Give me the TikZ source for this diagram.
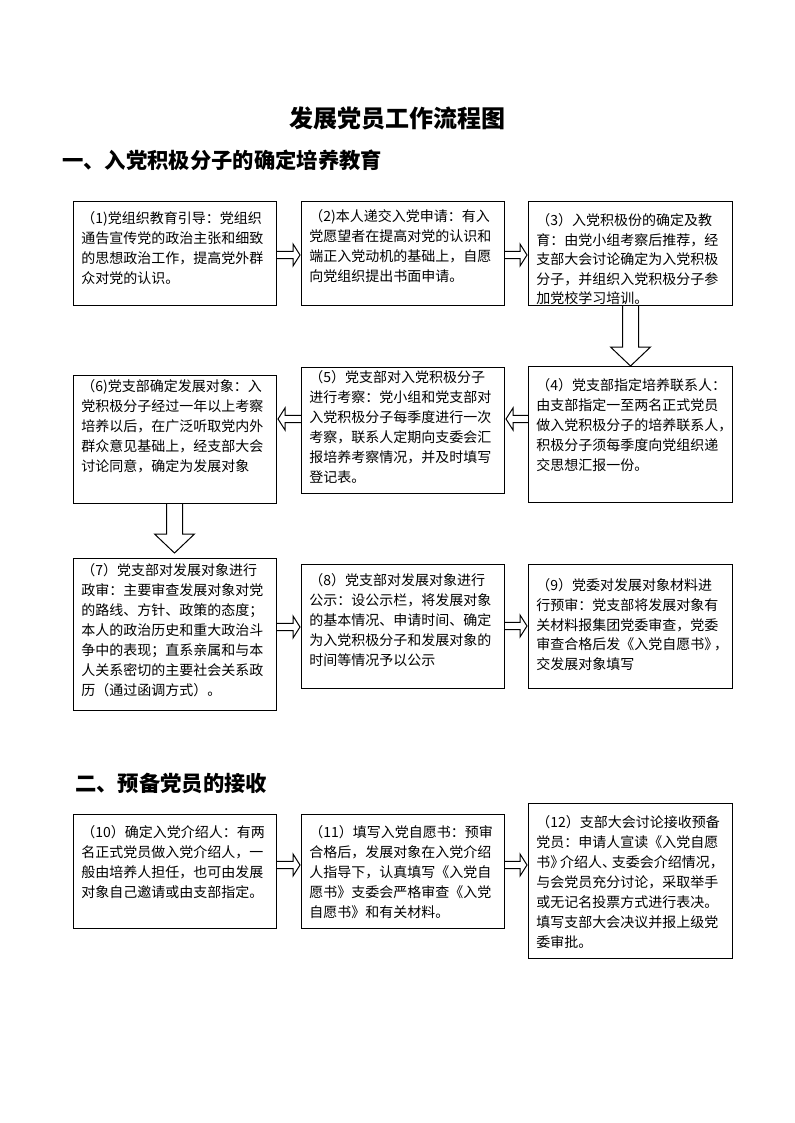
\documentclass[tikz,border=0pt]{standalone}
\usepackage{fontspec}
\setmainfont{Noto Sans CJK SC}
\usetikzlibrary{calc}
\tikzset{
  box/.style={draw, line width=0.75pt, inner sep=0pt, anchor=north west},
  boxtext/.style={anchor=north west, inner sep=0pt, align=left},
  blockarrow/.style={draw, line width=0.75pt, line join=miter},
  heading/.style={font=\fontsize{16pt}{18pt}\selectfont\bfseries, anchor=west, inner sep=0pt},
  titletext/.style={font=\fontsize{18pt}{20pt}\selectfont\bfseries, inner sep=0pt}
}
\newcommand\tightp{\kern-0.3em}
% name, x1, y1, x2, y2, first-line centre y, baselineskip, text
\newcommand\mkbox[8]{%
  \node[box, minimum width={(#4-#2)*0.75pt}, minimum height={(#5-#3)*0.75pt}] (#1) at (#2,#3) {};
  \node[boxtext, font=\fontsize{10.5pt}{#7}\selectfont] (#1t) at (#2+8,#6-8) {\rule{0pt}{10pt}#8};
}
% right-pointing hollow arrow: left node, right node, y
\newcommand\rarr[3]{%
  \coordinate (as) at (#1.east |- 0,#3);
  \coordinate (at) at ($(#2.west |- 0,#3)+(-1,0)$);
  \draw[blockarrow] ($(as)+(0,-3.7)$) -- ($(at)+(-7,-3.7)$) -- ($(at)+(-7,-11)$) -- (at)
     -- ($(at)+(-7,11)$) -- ($(at)+(-7,3.7)$) -- ($(as)+(0,3.7)$);
}
% left-pointing hollow arrow: right node, left node, y
\newcommand\larr[3]{%
  \coordinate (as) at (#1.west |- 0,#3);
  \coordinate (at) at ($(#2.east |- 0,#3)+(1,0)$);
  \draw[blockarrow] ($(as)+(0,-3.7)$) -- ($(at)+(7,-3.7)$) -- ($(at)+(7,-11)$) -- (at)
     -- ($(at)+(7,11)$) -- ($(at)+(7,3.7)$) -- ($(as)+(0,3.7)$);
}
% downward hollow arrow: top node, bottom node, x, gap above bottom node
\newcommand\darr[4]{%
  \coordinate (ds) at (#1.south -| #3,0);
  \coordinate (dt) at ($(#2.north -| #3,0)+(0,-#4)$);
  \draw[blockarrow] ($(ds)+(-8,0)$) -- ($(dt)+(-8,-19)$) -- ($(dt)+(-20,-19)$) -- (dt)
     -- ($(dt)+(20,-19)$) -- ($(dt)+(8,-19)$) -- ($(ds)+(8,0)$);
}
\begin{document}
\begin{tikzpicture}[x=0.75pt,y=-0.75pt]
\fill[white] (0,0) rectangle (794,1123);
\useasboundingbox (0,0) rectangle (794,1123);

\node[titletext] (title) at (397,118) {发展党员工作流程图};
\node[heading] (h1) at (62,160) {一、入党积极分子的确定培养教育};
\node[heading] (h2) at (75,783) {二、预备党员的接收};

\mkbox{b1}{73}{201}{276}{305}{218}{15pt}{（1)党组织教育引导：党组织\\通告宣传党的政治主张和细致\\的思想政治工作，提高党外群\\众对党的认识。}
\mkbox{b2}{301}{201}{504}{305}{216}{15pt}{（2)本人递交入党申请：有入\\党愿望者在提高对党的认识和\\端正入党动机的基础上，自愿\\向党组织提出书面申请。}
\mkbox{b3}{528}{201}{732}{305}{220}{14.6pt}{（3）入党积极份的确定及教\\育：由党小组考察后推荐，经\\支部大会讨论确定为入党积极\\分子，并组织入党积极分子参\\加党校学习培训。}

\mkbox{b4}{528}{366}{732}{502}{385}{15pt}{（4）党支部指定培养联系人：\\由支部指定一至两名正式党员\\做入党积极分子的培养联系人，\\积极分子须每季度向党组织递\\交思想汇报一份。}
\mkbox{b5}{301}{367}{504}{493}{377}{15pt}{（5）党支部对入党积极分子\\进行考察：党小组和党支部对\\入党积极分子每季度进行一次\\考察，联系人定期向支委会汇\\报培养考察情况，并及时填写\\登记表。}
\mkbox{b6}{73}{375}{276}{503}{386}{15pt}{（6)党支部确定发展对象：入\\党积极分子经过一年以上考察\\培养以后，在广泛听取党内外\\群众意见基础上，经支部大会\\讨论同意，确定为发展对象}

\mkbox{b7}{73}{558}{276}{710}{570}{15pt}{（7）党支部对发展对象进行\\政审：主要审查发展对象对党\\的路线、方针、政策的态度；\\本人的政治历史和重大政治斗\\争中的表现；直系亲属和与本\\人关系密切的主要社会关系政\\历（通过函调方式）。}
\mkbox{b8}{301}{564}{504}{688}{580}{15pt}{（8）党支部对发展对象进行\\公示：设公示栏，将发展对象\\的基本情况、申请时间、确定\\为入党积极分子和发展对象的\\时间等情况予以公示}
\mkbox{b9}{528}{564}{732}{688}{585}{14.8pt}{（9）党委对发展对象材料进\\行预审：党支部将发展对象有\\关材料报集团党委审查，党委\\审查合格后发《入党自愿书》\tightp，\\交发展对象填写}

\mkbox{b10}{73}{814}{276}{928}{832}{15pt}{（10）确定入党介绍人：有两\\名正式党员做入党介绍人，一\\般由培养人担任，也可由发展\\对象自己邀请或由支部指定。}
\mkbox{b11}{301}{814}{504}{928}{832}{15pt}{（11）填写入党自愿书：预审\\合格后，发展对象在入党介绍\\人指导下，认真填写《入党自\\愿书》支委会严格审查《入党\\自愿书》和有关材料。}
\mkbox{b12}{528}{803}{732}{958}{822}{15pt}{（12）支部大会讨论接收预备\\党员：申请人宣读《入党自愿\\书》\tightp 介绍人、\tightp 支委会介绍情况，\\与会党员充分讨论，采取举手\\或无记名投票方式进行表决。\\填写支部大会决议并报上级党\\委审批。}

\rarr{b1}{b2}{255}
\rarr{b2}{b3}{255}
\darr{b3}{b4}{630.5}{0}
\larr{b4}{b5}{419}
\larr{b5}{b6}{419}
\darr{b6}{b7}{174.5}{5}
\rarr{b7}{b8}{627}
\rarr{b8}{b9}{626}
\rarr{b10}{b11}{865}
\rarr{b11}{b12}{865}
\end{tikzpicture}
\end{document}
